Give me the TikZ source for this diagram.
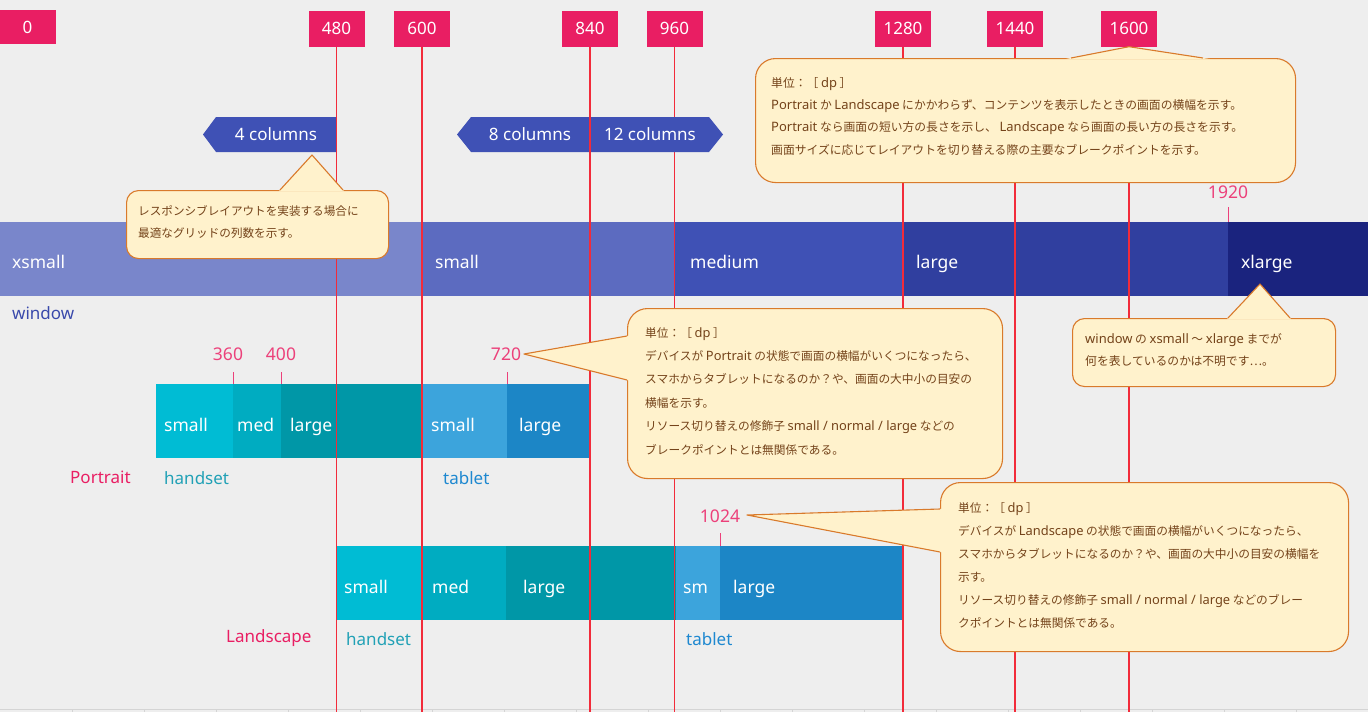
\documentclass[tikz,border=0pt]{standalone}
\usepackage{fontspec}
\setmainfont{Noto Sans}
\newfontfamily\jpfont{Noto Sans CJK JP}
\newfontfamily\latfont{Noto Sans}[Scale=1.1]
\newcommand\latw[1]{{\latfont #1}}
\usetikzlibrary{calc}
\definecolor{bgc}{HTML}{EEEEEE}
\definecolor{pinkc}{HTML}{E91E63}
\definecolor{numpink}{HTML}{EC407A}
\definecolor{vlinec}{HTML}{F22B3A}
\definecolor{win1}{HTML}{7986CB}
\definecolor{win2}{HTML}{5C6BC0}
\definecolor{win3}{HTML}{3F51B5}
\definecolor{win4}{HTML}{303F9F}
\definecolor{win5}{HTML}{1A237E}
\definecolor{colc}{HTML}{3F51B5}
\definecolor{cy1}{HTML}{00BCD4}
\definecolor{cy2}{HTML}{00ACC1}
\definecolor{cy3}{HTML}{0097A7}
\definecolor{bl1}{HTML}{3CA4DC}
\definecolor{bl2}{HTML}{1C86C6}
\definecolor{handc}{HTML}{21A1B6}
\definecolor{tabc}{HTML}{1E88D0}
\definecolor{winlbl}{HTML}{3949AB}
\definecolor{cfill}{HTML}{FFF2CC}
\definecolor{cline}{HTML}{D97A2B}
\definecolor{ctextc}{HTML}{74431A}
\definecolor{rulc}{HTML}{D4D4D4}
\tikzset{
  numbox/.style={fill=pinkc, text=white, minimum width=56pt, minimum height=36pt, inner sep=0pt,
    font=\fontsize{17}{20}\selectfont},
  vline/.style={draw=vlinec, line width=1.6pt},
  seg/.style={draw=none, inner sep=0pt, outer sep=0pt, anchor=north west, minimum height=74pt},
  barlbl/.style={text=white, anchor=base west, inner sep=0pt, font=\fontsize{17.5}{20}\selectfont},
  sidelbl/.style={anchor=base west, inner sep=0pt, font=\fontsize{17}{20}\selectfont},
  pinknum/.style={text=numpink, anchor=base, inner sep=0pt, font=\fontsize{17.5}{20}\selectfont},
  tickln/.style={draw=numpink, line width=1pt},
  colshape/.style={fill=colc},
  collbl/.style={text=white, inner sep=0pt, font=\fontsize{17}{20}\selectfont},
  cbody/.style={draw=cline, fill=cfill, line width=1.1pt, rounded corners=20pt, inner sep=0pt,
    anchor=north west},
  cptr/.style={draw=cline, line width=1.1pt, line join=round},
  ctext/.style={text=ctextc, anchor=north west, align=left, inner sep=0pt},
}
\begin{document}
\begin{tikzpicture}[x=1pt,y=-1pt]
\useasboundingbox (0,0) rectangle (1368,712);
\fill[bgc] (0,0) rectangle (1368,712);
\coordinate (bot) at (0,712);
% faint ruler at the bottom
\draw[rulc, line width=1pt] (0,709.5) -- (1368,709.5);
\foreach \t in {72,144,...,1296} \draw[rulc, line width=0.8pt] (\t,709.5) -- (\t,712);

% window bar
\node[seg, fill=win1, minimum width=422pt] (wxs) at (0,222) {};
\node[seg, fill=win2, minimum width=253pt] (wsm) at (422,222) {};
\node[seg, fill=win3, minimum width=228pt] (wmd) at (675,222) {};
\node[seg, fill=win4, minimum width=325pt] (wlg) at (903,222) {};
\node[seg, fill=win5, minimum width=140pt] (wxl) at (1228,222) {};

% portrait bar
\node[seg, fill=cy1, minimum width=77pt] (ps) at (156,384) {};
\node[seg, fill=cy2, minimum width=48pt] (pm) at (233,384) {};
\node[seg, fill=cy3, minimum width=141pt] (pl) at (281,384) {};
\node[seg, fill=bl1, minimum width=85pt] (pts) at (422,384) {};
\node[seg, fill=bl2, minimum width=83pt] (ptl) at (507,384) {};

% landscape bar
\node[seg, fill=cy1, minimum width=86pt] (ls) at (336,546) {};
\node[seg, fill=cy2, minimum width=84pt] (lm) at (422,546) {};
\node[seg, fill=cy3, minimum width=170pt] (ll) at (506,546) {};
\node[seg, fill=bl1, minimum width=44pt] (lts) at (676,546) {};
\node[seg, fill=bl2, minimum width=183pt] (ltl) at (720,546) {};

% top number boxes
\node[numbox, minimum height=34pt] (b0) at (27.5,27) {0};
\node[numbox] (b480) at (336.5,28.5) {480};
\node[numbox] (b600) at (422,28.5) {600};
\node[numbox] (b840) at (590,28.5) {840};
\node[numbox] (b960) at (674.5,28.5) {960};
\node[numbox] (b1280) at (903,28.5) {1280};
\node[numbox] (b1440) at (1015,28.5) {1440};
\node[numbox] (b1600) at (1129,28.5) {1600};

% line at 960 passes behind the column pointer
\draw[vline] (b960.south) -- (b960.south |- bot);

% column pointers
\fill[colshape] (203,134.5) -- (216,117) -- (336,117) -- (336,152) -- (216,152) -- cycle;
\node[collbl] (c4) at (276,134.5) {4 columns};
\fill[colshape] (457,134.5) -- (471,117) -- (709,117) -- (723,134.5) -- (709,152) -- (471,152) -- cycle;
\node[collbl] (c8) at (530,134.5) {8 columns};
\node[collbl] (c12) at (650,134.5) {12 columns};

% other vertical lines
\foreach \b in {b480,b600,b840,b1280,b1440,b1600}
  \draw[vline] (\b.south) -- (\b.south |- bot);

% bar labels
\node[barlbl] (lxs) at (12,268) {xsmall};
\node[barlbl] (lsm) at (435,268) {small};
\node[barlbl] (lmd) at (690,268) {medium};
\node[barlbl] (llg) at (916,268) {large};
\node[barlbl] (lxl) at (1241,268) {xlarge};
\node[sidelbl, text=winlbl] (lwin) at (12,319) {window};

\node[barlbl] (lps) at (164,431) {small};
\node[barlbl] (lpm) at (237,431) {med};
\node[barlbl] (lpl) at (290,431) {large};
\node[barlbl] (lpts) at (431,431) {small};
\node[barlbl] (lptl) at (519,431) {large};
\node[sidelbl, text=handc] (lph) at (164,484) {handset};
\node[sidelbl, text=tabc] (lpt) at (443,484) {tablet};
\node[sidelbl, text=pinkc] (lport) at (70,483) {Portrait};

\node[barlbl] (lls) at (344,593) {small};
\node[barlbl] (llm) at (432,593) {med};
\node[barlbl] (lll) at (523,593) {large};
\node[barlbl] (llts) at (683,593) {sm};
\node[barlbl] (lltl) at (733,593) {large};
\node[sidelbl, text=handc] (llh) at (346,645) {handset};
\node[sidelbl, text=tabc] (llt) at (686,645) {tablet};
\node[sidelbl, text=pinkc] (lland) at (226,642) {Landscape};

% pink breakpoint numbers and ticks
\node[pinknum] (n1920) at (1228,198) {1920};
\draw[tickln] (wxl.north west) -- ++(0,-15);
\node[pinknum] (n360) at (228,360) {360};
\draw[tickln] (pm.north west) -- ++(0,-12);
\node[pinknum] (n400) at (281,360) {400};
\draw[tickln] (pl.north west) -- ++(0,-12);
\node[pinknum] (n720) at (506,360) {720};
\draw[tickln] (ptl.north west) -- ++(0,-12);
\node[pinknum] (n1024) at (720,522) {1024};
\draw[tickln] (ltl.north west) -- ++(0,-13);

% callout: top (window widths)
\node[cbody, minimum width=540pt, minimum height=124pt] (cb1) at (755,58) {};
\coordinate (a1) at (b1600.south); \coordinate (p1l) at (1071,58); \coordinate (p1r) at (1203,58);
\fill[cfill] (a1) -- ($(a1)!1.1!(p1l)$) -- ($(a1)!1.1!(p1r)$) -- cycle;
\draw[cptr] (p1l) -- (a1) -- (p1r);
\node[ctext, font=\jpfont\fontsize{11.8}{22.4}\selectfont] (ct1) at (771,77) {単位：［ \latw{dp} ］\\
\latw{Portrait} か \latw{Landscape} にかかわらず、コンテンツを表示したときの画面の横幅を示す。\\
\latw{Portrait} なら画面の短い方の長さを示し、 \latw{Landscape} なら画面の長い方の長さを示す。\\
画面サイズに応じてレイアウトを切り替える際の主要なブレークポイントを示す。};

% callout: columns
\node[cbody, rounded corners=12pt, minimum width=262pt, minimum height=68pt] (cb2) at (126,190) {};
\coordinate (a2) at (312,155); \coordinate (p2l) at (280,190); \coordinate (p2r) at (343,190);
\fill[cfill] (a2) -- ($(a2)!1.04!(p2l)$) -- ($(a2)!1.04!(p2r)$) -- cycle;
\draw[cptr] (p2l) -- (a2) -- (p2r);
\node[ctext, font=\jpfont\fontsize{11.6}{22}\selectfont] (ct2) at (138,205) {レスポンシブレイアウトを実装する場合に\\
最適なグリッドの列数を示す。};

% callout: window question
\node[cbody, rounded corners=12pt, minimum width=263pt, minimum height=68pt] (cb3) at (1072,318) {};
\coordinate (a3) at (1260,284); \coordinate (p3l) at (1228,318); \coordinate (p3r) at (1290,318);
\fill[cfill] (a3) -- ($(a3)!1.04!(p3l)$) -- ($(a3)!1.04!(p3r)$) -- cycle;
\draw[cptr] (p3l) -- (a3) -- (p3r);
\node[ctext, font=\jpfont\fontsize{11.8}{22.5}\selectfont] (ct3) at (1085,333) {\latw{window} の \latw{xsmall} ～ \latw{xlarge} までが\\
何を表しているのかは不明です…。};

% callout: portrait
\node[cbody, minimum width=375pt, minimum height=170pt] (cb4) at (627,308) {};
\coordinate (a4) at (524,354); \coordinate (p4t) at (627,336); \coordinate (p4b) at (627,380);
\fill[cfill] (a4) -- ($(a4)!1.02!(p4t)$) -- ($(a4)!1.02!(p4b)$) -- cycle;
\draw[cptr] (p4t) -- (a4) -- (p4b);
\node[ctext, font=\jpfont\fontsize{11.7}{23.4}\selectfont] (ct4) at (645,327) {単位：［ \latw{dp} ］\\
デバイスが \latw{Portrait} の状態で画面の横幅がいくつになったら、\\
スマホからタブレットになるのか？や、画面の大中小の目安の\\
横幅を示す。\\
リソース切り替えの修飾子 \latw{small / normal / large} などの\\
ブレークポイントとは無関係である。};

% callout: landscape
\node[cbody, minimum width=408pt, minimum height=169pt] (cb5) at (940,482) {};
\coordinate (a5) at (747,515); \coordinate (p5t) at (940,509); \coordinate (p5b) at (940,552);
\fill[cfill] (a5) -- ($(a5)!1.01!(p5t)$) -- ($(a5)!1.01!(p5b)$) -- cycle;
\draw[cptr] (p5t) -- (a5) -- (p5b);
\node[ctext, font=\jpfont\fontsize{11.7}{23}\selectfont] (ct5) at (958,502) {単位：［ \latw{dp} ］\\
デバイスが \latw{Landscape} の状態で画面の横幅がいくつになったら、\\
スマホからタブレットになるのか？や、画面の大中小の目安の横幅を\\
示す。\\
リソース切り替えの修飾子 \latw{small / normal / large} などのブレー\\
クポイントとは無関係である。};
\end{tikzpicture}
\end{document}
